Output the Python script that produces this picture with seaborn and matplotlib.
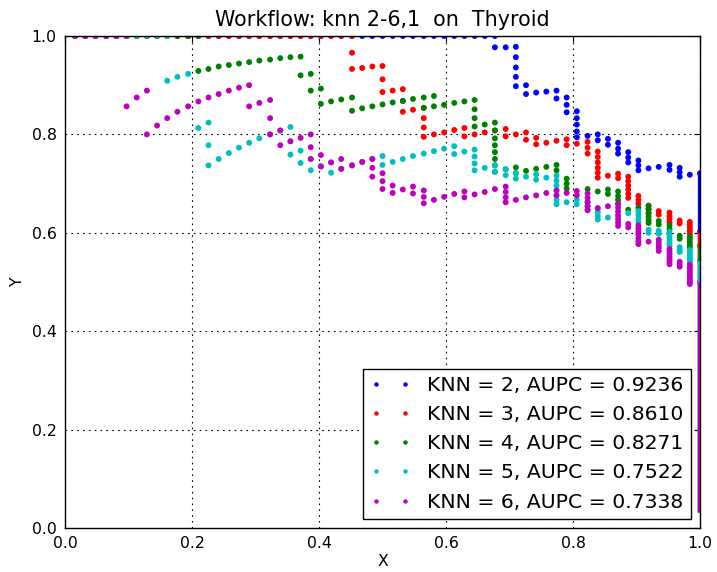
import matplotlib
matplotlib.use("Agg")
import matplotlib.pyplot as plt
from matplotlib.lines import Line2D
import pandas as pd
import seaborn as sns

# ---------------- data ----------------
series_names = ["KNN = 2, AUPC = 0.9236", "KNN = 3, AUPC = 0.8610",
                "KNN = 4, AUPC = 0.8271", "KNN = 5, AUPC = 0.7522",
                "KNN = 6, AUPC = 0.7338"]
series_colors = ["#0000ff", "#ff0000", "#008000", "#00bfbf", "#bf00bf"]
tick_values = [0.0, 0.2, 0.4, 0.6, 0.8, 1.0]
tick_labels = ["0.0", "0.2", "0.4", "0.6", "0.8", "1.0"]

knn2_x = [.016, .032, .048, .065, .081, .097, .113, .129, .145, .161, .177, .194, .210, .226,
          .242, .258, .274, .290, .306, .323, .339, .355, .371, .387, .403, .419, .435, .452,
          .468, .484, .500, .516, .532, .548, .565, .581, .597, .613, .629, .645, .661, .677,
          .677, .694, .710, .710, .710, .710, .710, .726, .726, .742, .758, .774, .774, .790, .790, .790,
          .806, .806, .806, .806, .806, .823, .839, .839, .855, .855, .871, .871, .871, .887, .887, .887,
          .903, .903, .903, .919, .935, .952, .952, .968, .968, .968, .984, 1.0]
knn2_y = [1, 1, 1, 1, 1, 1, 1, 1, 1, 1, 1, 1, 1, 1,
          1, 1, 1, 1, 1, 1, 1, 1, 1, 1, 1, 1, 1, 1,
          1, 1, 1, 1, 1, 1, 1, 1, 1, 1, 1, 1, 1, 1,
          .977, .977, .978, .957, .936, .917, .898, .900, .882, .885, .887, .889, .873, .875, .860, .845,
          .847, .833, .820, .806, .794, .797, .800, .788, .791, .779, .783, .771, .761, .764, .753, .743,
          .747, .737, .727, .731, .734, .738, .728, .732, .723, .714, .718, .721]

knn3_x = [.016, .032, .048, .065, .081, .097, .113, .129, .145, .161, .177, .194, .210, .226,
          .242, .258, .274, .290, .306, .323, .339, .355, .371, .387, .403, .419, .435, .452,
          .452, .452, .468, .484, .500, .500, .500, .516, .532, .532, .532, .548, .565, .565, .565, .565,
          .581, .597, .613, .629, .629, .645, .661, .677, .694, .694, .710, .726, .726, .742, .742, .758,
          .774, .790, .790, .806, .823, .823, .823, .839, .839, .839, .839, .839, .839, .855, .871, .871,
          .887, .887, .887, .887, .887, .887, .903, .903, .903, .919, .919, .919, .935, .935,
          .952, .952, .952, .952, .968, .968, .984, .984, .984, .984, .984, 1.0]
knn3_y = [1, 1, 1, 1, 1, 1, 1, 1, 1, 1, 1, 1, 1, 1,
          1, 1, 1, 1, 1, 1, 1, 1, 1, 1, 1, 1, 1, 1,
          .966, .933, .935, .938, .939, .912, .886, .889, .892, .868, .846, .850, .854, .833, .814, .795,
          .800, .804, .809, .813, .796, .800, .804, .808, .811, .796, .800, .804, .789, .793, .780, .783,
          .787, .790, .778, .781, .785, .773, .761, .765, .754, .743, .732, .722, .712, .716, .720, .711,
          .714, .705, .696, .688, .679, .671, .675, .667, .659, .655, .648, .640, .644, .637,
          .641, .634, .628, .621, .625, .619, .622, .616, .610, .604, .598, .602]

knn4_x = [.016, .032, .048, .065, .081, .097, .113, .129, .145, .161, .177, .194, .210,
          .210, .226, .242, .258, .274, .290, .306, .323, .339, .355, .371, .371, .387, .387, .403, .403,
          .419, .435, .452, .452, .468, .484, .500, .516, .532, .548, .565, .565, .581, .581, .597, .613,
          .629, .645, .645, .645, .645, .661, .677, .677, .677, .677, .677, .677, .677, .677, .694, .710, .710,
          .726, .742, .758, .774, .774, .790, .790, .790, .823, .839, .855, .855, .871, .871, .871, .871,
          .887, .903, .919, .919, .919, .919, .919, .919, .935, .935, .952, .952, .968, .968,
          .984, .984, .984, .984, .984, 1.0]
knn4_y = [1, 1, 1, 1, 1, 1, 1, 1, 1, 1, 1, 1, 1,
          .929, .933, .938, .941, .944, .947, .950, .952, .955, .957, .958, .920, .923, .889, .893, .862,
          .867, .871, .875, .848, .853, .857, .861, .865, .868, .872, .875, .854, .878, .857, .860, .864,
          .867, .870, .851, .833, .816, .820, .824, .808, .792, .778, .764, .750, .737, .724, .729, .733, .721,
          .726, .730, .734, .738, .727, .710, .700, .690, .689, .684, .688, .679, .684, .675, .667, .659,
          .647, .651, .655, .648, .640, .633, .626, .620, .624, .617, .615, .608, .594, .588,
          .592, .587, .581, .575, .570, .574]

knn5_x = [.016, .032, .048, .065, .081, .097, .113, .129, .145, .161,
          .161, .177, .194, .210, .226, .226, .226, .242, .258, .274, .290, .306, .323, .339, .355, .355, .355,
          .371, .371, .387, .387, .403, .419, .419, .435, .452, .468, .484, .500, .500, .516, .532, .548,
          .565, .581, .597, .613, .613, .629, .645, .645, .645, .645, .661, .677, .677, .694, .694, .710, .710,
          .726, .742, .742, .758, .774, .774, .774, .774, .774, .774, .774, .790, .806, .806, .823, .823, .823,
          .839, .839, .839, .839, .855, .871, .887, .903, .903, .903, .903, .919, .919, .935, .935,
          .952, .952, .952, .952, .952, .952, .968, .968, .968, .984, .984, .984, .984, .984, .984, 1.0]
knn5_y = [1, 1, 1, 1, 1, 1, 1, 1, 1, 1,
          .909, .917, .923, .813, .824, .778, .737, .750, .762, .773, .783, .792, .800, .808, .815, .786, .759,
          .767, .742, .750, .727, .735, .743, .722, .730, .737, .744, .750, .756, .738, .744, .750, .756,
          .761, .766, .771, .776, .760, .765, .769, .755, .741, .727, .732, .737, .724, .729, .717, .721, .710,
          .714, .719, .708, .712, .716, .706, .696, .686, .676, .667, .658, .662, .667, .658, .662, .654, .646,
          .650, .642, .634, .627, .631, .635, .640, .644, .636, .629, .622, .606, .600, .604, .598,
          .602, .596, .590, .584, .578, .573, .571, .566, .561, .565, .560, .555, .550, .545, .540, .544]

knn6_x = [.016, .032, .048, .065, .081, .097,
          .097, .113, .129, .129, .145, .161, .177, .194, .210, .226, .242, .258, .274, .290, .290, .306,
          .323, .323, .323, .339, .339, .355, .371, .387, .387, .387, .403, .403, .419, .435, .435, .452,
          .468, .484, .484, .484, .500, .500, .500, .516, .516, .532, .548, .548, .565, .565, .565, .581,
          .597, .613, .629, .629, .645, .661, .677, .694, .694, .694, .694, .710, .726, .742, .758, .774, .774,
          .790, .806, .806, .823, .823, .823, .823, .823, .839, .855, .871, .871, .871, .871, .871, .871, .871,
          .887, .887, .903, .903, .903, .903, .903, .903, .903, .919, .935, .935, .935, .935, .935,
          .952, .952, .952, .952, .952, .952, .952, .968, .968, .968,
          .984, .984, .984, .984, .984, .984, .984, .984, .984, .984, 1.0]
knn6_y = [1, 1, 1, 1, 1, 1,
          .857, .875, .889, .800, .818, .833, .846, .857, .867, .875, .882, .889, .895, .900, .857, .864,
          .870, .833, .800, .808, .778, .786, .793, .800, .774, .750, .758, .735, .743, .750, .730, .737,
          .744, .750, .732, .714, .721, .705, .689, .696, .681, .688, .694, .680, .686, .673, .660, .667,
          .673, .679, .684, .672, .678, .683, .689, .694, .683, .672, .662, .667, .672, .676, .681, .686, .676,
          .681, .685, .676, .680, .671, .662, .654, .646, .650, .654, .659, .651, .643, .635, .628, .621, .614,
          .618, .611, .615, .609, .602, .596, .589, .583, .577, .582, .586, .580, .574, .569, .563,
          .567, .562, .557, .551, .546, .541, .536, .541, .536, .531,
          .535, .530, .526, .521, .517, .513, .508, .504, .500, .496, .500]

# vertical run of points at X = 1.0 (too dense to separate): top and bottom of each run
tail_top = [.721, .602, .574, .544, .500]
tail_bottom = [.033, .033, .033, .033, .033]

# ---------------- styling ----------------
sns.set_style("white", rc={"axes.edgecolor": "black", "text.color": "black",
                           "axes.labelcolor": "black", "xtick.color": "black",
                           "ytick.color": "black"})
plt.rcParams["font.family"] = ["DejaVu Sans"]
plt.rcParams["lines.scale_dashes"] = False

frames = []
for name, xs, ys in zip(series_names,
                        [knn2_x, knn3_x, knn4_x, knn5_x, knn6_x],
                        [knn2_y, knn3_y, knn4_y, knn5_y, knn6_y]):
    frames.append(pd.DataFrame({"X": xs, "Y": ys, "series": name}))
df = pd.concat(frames, ignore_index=True)

fig = plt.figure(figsize=(7.17, 5.72), dpi=100)
ax = fig.add_axes([65 / 717, 1 - 528 / 572, 635 / 717, 492 / 572])

sns.scatterplot(data=df, x="X", y="Y", hue="series", hue_order=series_names,
                palette=dict(zip(series_names, series_colors)),
                s=18, linewidth=0, legend=False, ax=ax, zorder=3)

for top, bot, col in zip(tail_top, tail_bottom, series_colors):
    ax.plot([1.0, 1.0], [top, bot], color=col, lw=3.8, solid_capstyle="butt", zorder=3)

ax.set_xlim(0, 1)
ax.set_ylim(0, 1)
ax.set_xticks(tick_values)
ax.set_xticklabels(tick_labels)
ax.set_yticks(tick_values)
ax.set_yticklabels(tick_labels)
ax.grid(True, color="black", linestyle=(0, (1.2, 3.0)), linewidth=0.8, zorder=1)
ax.set_axisbelow(True)
ax.tick_params(direction="in", top=True, right=True, length=4.5, width=0.8,
               labelsize=11.3, pad=6)
for sp in ax.spines.values():
    sp.set_linewidth(1.0)
    sp.set_color("black")
    sp.set_zorder(4)

ax.set_title("Workflow: knn 2-6,1  on  Thyroid", fontsize=14.9, pad=7)
ax.set_xlabel("X", fontsize=11.3, labelpad=2)
ax.set_ylabel("Y", fontsize=11.3, labelpad=5)

handles = [Line2D([], [], linestyle="", marker="o", markersize=3.2,
                  markeredgewidth=0, color=c) for c in series_colors]
leg = ax.legend(handles, series_names, loc="lower right", numpoints=2,
                fontsize=14.7, frameon=True, fancybox=False, framealpha=1,
                edgecolor="black", borderpad=0.35, labelspacing=0.5,
                handlelength=2.0, handletextpad=0.8, borderaxespad=0.45)
leg.get_frame().set_linewidth(1.0)
leg.set_zorder(5)

fig.savefig("out.png", dpi=100)
